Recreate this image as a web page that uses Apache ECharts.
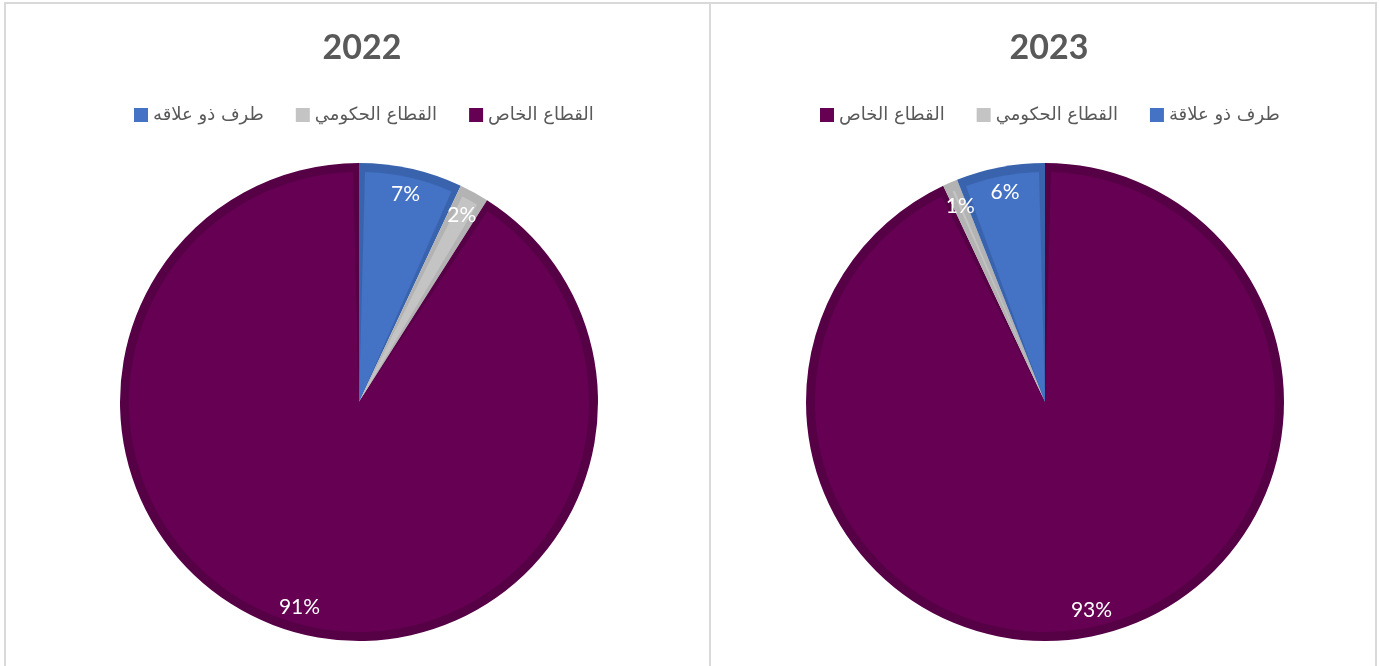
<!DOCTYPE html>
<html>
<head>
<meta charset="utf-8">
<script src="https://cdn.jsdelivr.net/npm/echarts@6/dist/echarts.min.js"></script>
<style>
  html, body { margin: 0; padding: 0; background: #fff; }
  #chart { width: 1379px; height: 666px; }
</style>
</head>
<body>
<div id="chart"></div>
<script>
// data
var years = ['2022', '2023'];
var names2022 = ['طرف ذو علاقه', 'القطاع الحكومي', 'القطاع الخاص'];
var values2022 = [7, 2, 91];
var names2023 = ['القطاع الخاص', 'القطاع الحكومي', 'طرف ذو علاقة'];
var values2023 = [93, 1, 6];

// colours per sector name (face / darker bevel)
var faceColor = {
  'طرف ذو علاقه': '#4472c4', 'طرف ذو علاقة': '#4472c4',
  'القطاع الحكومي': '#c4c4c4',
  'القطاع الخاص': '#650052'
};
var edgeColor = {
  'طرف ذو علاقه': '#3a63ae', 'طرف ذو علاقة': '#3a63ae',
  'القطاع الحكومي': '#b3b3b3',
  'القطاع الخاص': '#560046'
};

var R = 239;
var centers = [[359, 402], [1045, 402]];

function items(names, values, colors) {
  return names.map(function (n, i) {
    return { name: n, value: values[i], itemStyle: { color: colors[n] } };
  });
}

function pieSeries(names, values, center) {
  return [
    { // light face (first so legend picks its colour)
      type: 'pie', center: center, radius: R - 9, padAngle: 3,
      startAngle: 90, z: 3, silent: true, label: { show: false },
      labelLine: { show: false }, animation: false,
      data: items(names, values, faceColor)
    },
    { // darker bevel underneath
      type: 'pie', center: center, radius: R,
      startAngle: 90, z: 2, silent: true, label: { show: false },
      labelLine: { show: false }, animation: false,
      data: items(names, values, edgeColor)
    },
    { // transparent ring only to place the labels
      type: 'pie', center: center, radius: [R * 0.76, R],
      startAngle: 90, z: 4, silent: true, animation: false,
      itemStyle: { color: 'rgba(0,0,0,0)' },
      label: {
        show: true, position: 'inside', color: '#ffffff',
        fontFamily: 'Lato', fontSize: 21,
        formatter: function (p) { return p.value + '%'; }
      },
      labelLine: { show: false },
      data: names.map(function (n, i) { return { name: n, value: values[i] }; })
    }
  ];
}

var chart = echarts.init(document.getElementById('chart'));

var legendText = { color: '#595959', fontFamily: 'DejaVu Sans', fontSize: 18 };

chart.setOption({
  backgroundColor: '#ffffff',
  title: [
    { text: years[0], left: 357, top: 26, textAlign: 'center',
      textStyle: { color: '#595959', fontFamily: 'Lato', fontWeight: 'bold', fontSize: 34 } },
    { text: years[1], left: 1044, top: 26, textAlign: 'center',
      textStyle: { color: '#595959', fontFamily: 'Lato', fontWeight: 'bold', fontSize: 34 } }
  ],
  legend: [
    { data: names2022, left: 129, top: 101, itemWidth: 14, itemHeight: 14, itemGap: 32,
      icon: 'rect', selectedMode: false, textStyle: legendText },
    { data: names2023, left: 815, top: 101, itemWidth: 14, itemHeight: 14, itemGap: 32,
      icon: 'rect', selectedMode: false, textStyle: legendText }
  ],
  graphic: [
    { type: 'polyline', shape: { points: [[5, 666], [5, 3], [1376, 3], [1376, 666]] },
      style: { stroke: '#d9d9d9', lineWidth: 2, fill: null } },
    { type: 'line', shape: { x1: 710, y1: 3, x2: 710, y2: 666 },
      style: { stroke: '#d9d9d9', lineWidth: 2 } }
  ],
  series: pieSeries(names2022, values2022, centers[0])
    .concat(pieSeries(names2023, values2023, centers[1]))
});
</script>
</body>
</html>
